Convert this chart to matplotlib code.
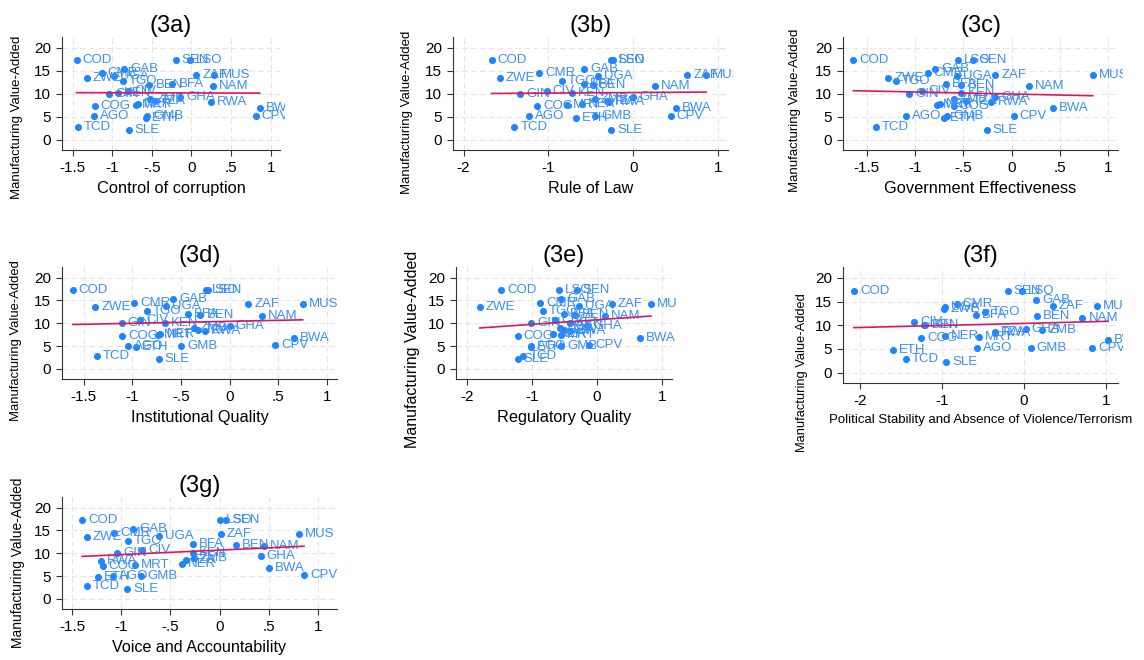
import numpy as np
import matplotlib
matplotlib.use("Agg")
import matplotlib.pyplot as plt
from matplotlib.transforms import Bbox

plt.rcParams['font.family'] = ['Liberation Sans', 'DejaVu Sans']

# countries and manufacturing value-added (same in every panel)
countries = ['COD', 'SEN', 'LSO', 'GAB', 'CMR', 'ZWE', 'UGA', 'ZAF', 'MUS', 'TGO',
             'BFA', 'BEN', 'NAM', 'CIV', 'KEN', 'GIN', 'GHA', 'ZMB', 'TZA', 'RWA',
             'NER', 'MRT', 'COG', 'BWA', 'CPV', 'AGO', 'GMB', 'ETH', 'TCD', 'SLE']
mva = [17.3, 17.3, 17.3, 15.3, 14.5, 13.5, 13.8, 14.1, 14.1, 12.7,
       12.1, 11.9, 11.6, 10.7, 10.1, 10.0, 9.3, 8.9, 8.5, 8.3,
       7.7, 7.5, 7.3, 6.8, 5.2, 5.1, 5.1, 4.8, 2.8, 2.2]

# governance indicators, one per panel
corruption = [-1.45, -0.20, -0.02, -0.85, -1.13, -1.32, -0.98, 0.06, 0.29, -0.87,
              -0.24, -0.53, 0.27, -0.80, -0.93, -1.04, -0.14, -0.52, -0.46, 0.24,
              -0.68, -0.70, -1.22, 0.86, 0.81, -1.23, -0.56, -0.58, -1.43, -0.79]
rule_of_law = [-1.67, -0.26, -0.24, -0.58, -1.11, -1.57, -0.41, 0.64, 0.86, -0.84,
               -0.58, -0.47, 0.26, -1.02, -0.72, -1.33, 0.00, -0.45, -0.31, -0.29,
               -0.60, -0.78, -1.13, 0.50, 0.44, -1.23, -0.45, -0.67, -1.40, -0.26]
gov_eff = [-1.64, -0.40, -0.56, -0.79, -0.87, -1.28, -0.57, -0.17, 0.84, -1.20,
           -0.68, -0.52, 0.18, -0.93, -0.52, -1.06, -0.17, -0.60, -0.47, -0.21,
           -0.74, -0.77, -0.60, 0.43, 0.02, -1.10, -0.67, -0.70, -1.41, -0.26]
inst_quality = [-1.61, -0.22, -0.24, -0.58, -0.98, -1.38, -0.65, 0.19, 0.75, -0.85,
                -0.43, -0.30, 0.33, -0.92, -0.66, -1.11, 0.00, -0.37, -0.32, -0.25,
                -0.71, -0.74, -1.10, 0.66, 0.47, -1.04, -0.50, -0.96, -1.36, -0.73]
reg_quality = [-1.47, -0.31, -0.58, -0.55, -0.87, -1.80, -0.28, 0.23, 0.83, -0.83,
               -0.50, -0.33, 0.13, -0.64, -0.41, -1.01, -0.15, -0.57, -0.50, -0.41,
               -0.67, -0.55, -1.22, 0.66, -0.12, -1.02, -0.55, -1.01, -1.13, -1.22]
pol_stability = [-2.07, -0.20, -0.03, 0.15, -0.82, -0.97, -0.96, 0.35, 0.89, -0.47,
                 -0.59, 0.16, 0.71, -1.34, -1.20, -1.22, 0.02, 0.22, -0.36, -0.35,
                 -0.96, -0.55, -1.25, 1.02, 0.83, -0.57, 0.08, -1.59, -1.44, -0.95]
voice_acc = [-1.40, 0.07, 0.00, -0.88, -1.07, -1.35, -0.62, 0.01, 0.81, -0.93,
             -0.27, 0.17, 0.45, -0.79, -0.27, -1.04, 0.42, -0.26, -0.34, -1.21,
             -0.38, -0.86, -1.19, 0.50, 0.86, -1.08, -0.80, -1.24, -1.35, -0.94]

tick_a = ([-1.5, -1, -0.5, 0, 0.5, 1], ['-1.5', '-1', '-.5', '0', '.5', '1'])
tick_b = ([-2, -1, 0, 1], ['-2', '-1', '0', '1'])

# title, x values, x label, x label size, axes box px (l, t, r, b), xlim, ticks,
# y label centre px (x, y) and size
panels = [
    ('(3a)', corruption, 'Control of corruption', 11.8, (62, 37, 280, 150),
     (-1.633, 1.116), tick_a, (17, 117, 9.5)),
    ('(3b)', rule_of_law, 'Rule of Law', 11.6, (453, 37, 728, 150),
     (-2.125, 1.118), tick_b, (407, 112, 9.5)),
    ('(3c)', gov_eff, 'Government Effectiveness', 11.8, (843, 37, 1118, 150),
     (-1.748, 1.102), tick_a, (795, 110, 9.5)),
    ('(3d)', inst_quality, 'Institutional Quality', 11.7, (62, 267, 337, 379),
     (-1.721, 1.102), tick_a, (16, 341, 9.4)),
    ('(3e)', reg_quality, 'Regulatory Quality', 11.7, (456, 267, 672, 379),
     (-2.165, 1.154), tick_b, (413, 349, 11.5)),
    ('(3f)', pol_stability, 'Political Stability and Absence of Violence/Terrorism', 9.5,
     (843, 267, 1118, 383), (-2.203, 1.142), tick_b, (802, 373, 9.3)),
    ('(3g)', voice_acc, 'Voice and Accountability', 11.6, (62, 497, 337, 609),
     (-1.604, 1.196), tick_a, (18, 563, 9.9)),
]

W, H = 1144, 660
fig = plt.figure(figsize=(W / 100, H / 100), dpi=100)

dot_col = '#1f85ff'
lab_col = '#3b8ef7'
fit_col = '#d8195f'

for title, xs, xlabel, xl_size, (l, t, r, b), xlim, ticks, ylab in panels:
    ax = fig.add_axes([l / W, 1 - b / H, (r - l) / W, (b - t) / H])
    x = np.array(xs)
    y = np.array(mva)

    ax.scatter(x, y, s=26, color=dot_col, zorder=3, linewidths=0)
    # linear fit
    slope, icpt = np.polyfit(x, y, 1)
    xx = np.array([x.min(), x.max()])
    ax.plot(xx, icpt + slope * xx, color=fit_col, lw=1.2, zorder=4)

    # labels clipped a little beyond the plot region
    clip = Bbox([[0, 0], [r + 5, H]])
    for xi, yi, name in zip(x, y, countries):
        txt = ax.annotate(name, (xi, yi), xytext=(4.3, 0), textcoords='offset points',
                          va='center', ha='left', fontsize=9.5, color=lab_col,
                          zorder=3, annotation_clip=False)
        txt.set_clip_path(None)
        txt.set_clip_box(clip)
        txt.set_clip_on(True)

    ax.set_xlim(*xlim)
    ax.set_ylim(-2.2, 22.3)
    ax.set_xticks(ticks[0])
    ax.set_xticklabels(ticks[1])
    ax.set_yticks([0, 5, 10, 15, 20])
    ax.grid(True, color='#e6e6e6', linestyle=(0, (5, 3)), linewidth=0.8)
    ax.set_axisbelow(True)
    for side in ['top', 'right']:
        ax.spines[side].set_visible(False)
    for side in ['left', 'bottom']:
        ax.spines[side].set_color('#333333')
        ax.spines[side].set_linewidth(0.8)
    ax.tick_params(length=4, width=0.8, color='#333333', labelsize=11, pad=4)

    ax.set_title(title, fontsize=17, pad=3)
    ax.set_xlabel(xlabel, fontsize=xl_size, labelpad=4)
    fig.text(ylab[0] / W, 1 - ylab[1] / H, 'Manufacturing Value-Added',
             rotation=90, ha='center', va='center', fontsize=ylab[2])

fig.savefig('out.png', dpi=100, facecolor='white')
